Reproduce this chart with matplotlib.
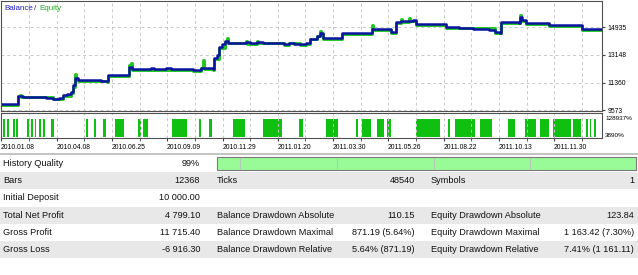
import matplotlib
matplotlib.use('Agg')
import matplotlib.pyplot as plt
import matplotlib.transforms as mtransforms

plt.rcParams['font.family'] = ['Liberation Sans', 'DejaVu Sans']

# Balance curve (trade number, balance)
bal_x = [0, 17, 22, 35, 45, 52, 58, 62, 66, 70, 72, 74, 77, 95, 100, 106, 107, 126, 128, 131,
         150, 153, 165, 170, 188, 192, 200, 212, 213, 216, 218, 221, 224, 227, 242, 245, 249, 256,
         262, 280, 283, 288, 293, 299, 305, 309, 316, 319, 322, 340, 341, 370, 371, 389, 390, 395,
         400, 406, 412, 415, 441, 445, 458, 472, 488, 494, 499, 500, 518, 519, 521, 525, 548, 581, 600]
balance = [10000, 10520, 10470, 10440, 10400, 10340, 10380, 10560, 10620, 10760, 11200, 11650, 11540,
           11520, 11480, 11470, 11850, 11840, 12380, 12250, 12290, 12230, 12290, 12240, 12230, 12180,
           12280, 12260, 12950, 13150, 13650, 13850, 14050, 13950, 13920, 14000, 13920, 13980, 13940,
           13930, 13870, 13950, 13880, 13840, 13900, 14200, 14400, 14580, 14240, 14240, 14560, 14560,
           14810, 14800, 14630, 15280, 15330, 15360, 15390, 15160, 15130, 14940, 14880, 14830, 14760,
           14640, 14580, 15250, 15240, 15580, 15380, 15210, 15050, 14830, 14799.10]

# Equity curve
eq_x = [0, 17, 19, 20, 52, 58, 62, 70, 72, 74, 75, 77, 106, 107, 126, 128, 130, 131, 170, 192, 200,
        202, 203, 212, 213, 218, 224, 226, 227, 245, 246, 256, 257, 283, 288, 299, 305, 309, 316,
        319, 320, 322, 340, 341, 370, 371, 372, 390, 395, 400, 401, 408, 409, 415, 445, 494, 500,
        519, 520, 525, 548, 581, 600]
equity = [9950, 10480, 10560, 10420, 10300, 10330, 10500, 10700, 11100, 11900, 11600, 11480, 11420,
          11800, 11790, 12500, 12640, 12200, 12190, 12130, 12330, 12830, 12230, 12210, 12900, 13600,
          14000, 14250, 13900, 14080, 13880, 14060, 13900, 13820, 13900, 13790, 13850, 14150, 14350,
          14680, 14520, 14190, 14190, 14500, 14500, 15080, 14760, 14580, 15230, 15500, 15300, 15540,
          15340, 15110, 14890, 14590, 15200, 15730, 15330, 15160, 15000, 14780, 14750]

# Margin level bursts (trade start, trade end, level %)
margin_start = [2, 6, 12, 15, 26, 30, 34, 38, 42, 50, 85, 93, 102, 114, 137, 142, 171, 198, 208, 232,
                262, 298, 325, 355, 361, 376, 386, 415, 447, 454, 479, 507, 524, 539, 552, 572, 585,
                589, 593]
margin_end = [4, 8, 14, 17, 28, 32, 35, 40, 44, 53, 87, 95, 105, 123, 140, 147, 186, 200, 211, 244,
              281, 302, 337, 357, 370, 383, 390, 439, 449, 474, 491, 514, 535, 548, 570, 580, 587,
              590, 595]
margin_level = 140000

bal_ticks = [9573, 11360, 13148, 14935]
margin_ticks = [3890, 128937]
date_pos = [0, 56, 111, 166, 222, 277, 332, 387, 443, 498, 553]
date_labels = ['2010.01.08', '2010.04.08', '2010.06.25', '2010.09.09', '2010.11.29', '2011.01.20',
               '2011.03.30', '2011.05.26', '2011.08.22', '2011.10.13', '2011.11.30']
mid_pos = [28, 83, 139, 194, 249, 304, 360, 415, 470, 526, 581]

# Report table
col1_labels = ['History Quality', 'Bars', 'Initial Deposit', 'Total Net Profit', 'Gross Profit', 'Gross Loss']
col1_values = ['99%', '12368', '10 000.00', '4 799.10', '11 715.40', '-6 916.30']
col2_labels = ['', 'Ticks', '', 'Balance Drawdown Absolute', 'Balance Drawdown Maximal', 'Balance Drawdown Relative']
col2_values = ['', '48540', '', '110.15', '871.19 (5.64%)', '5.64% (871.19)']
col3_labels = ['', 'Symbols', '', 'Equity Drawdown Absolute', 'Equity Drawdown Maximal', 'Equity Drawdown Relative']
col3_values = ['', '1', '', '123.84', '1 163.42 (7.30%)', '7.41% (1 161.11)']
quality_dividers = [240, 337, 434, 530]

W, H = 638, 275


def box(x0, y0, x1, y1):
    return [x0 / W, 1 - y1 / H, (x1 - x0) / W, (y1 - y0) / H]


fig = plt.figure(figsize=(W / 100, H / 100), dpi=100)

# table background (pixel coordinates)
axt = fig.add_axes([0, 0, 1, 1])
axt.set_xlim(0, W)
axt.set_ylim(H, 0)
axt.axis('off')
axt.axhspan(152.5, 155, color='#c4c4c4', lw=0)
row_h = 17.2
top = 155
for i in range(len(col1_labels)):
    y0 = top + i * row_h
    if i % 2 == 1:
        axt.axhspan(y0, y0 + row_h, color='#e8e8e8', lw=0)
    yc = y0 + row_h / 2
    kw = dict(va='center', fontsize=6.6, color='#111111')
    axt.text(3, yc, col1_labels[i], ha='left', **kw)
    axt.text(200, yc, col1_values[i], ha='right', **kw)
    axt.text(217, yc, col2_labels[i], ha='left', **kw)
    axt.text(415, yc, col2_values[i], ha='right', **kw)
    axt.text(431, yc, col3_labels[i], ha='left', **kw)
    axt.text(634, yc, col3_values[i], ha='right', **kw)

# history quality bar
axt.add_patch(plt.Rectangle((216.5, 157), 419, 12.5, facecolor='#98fb98', edgecolor='#7a7a7a', lw=0.8))
for xd in quality_dividers:
    axt.plot([xd, xd], [157.5, 169], color='#b8c8b8', lw=0.8)

grid_kw = dict(color='#c8c8c8', linestyle=(0, (3, 3)), linewidth=0.7)

# balance / equity chart
ax = fig.add_axes(box(1, 1, 602, 111))
ax.plot(eq_x, equity, drawstyle='steps-post', color='#1ec81e', lw=2.1)
ax.plot(bal_x, balance, drawstyle='steps-post', color='#0a14a0', lw=1.8)
ax.set_xlim(0, 601)
ax.set_ylim(9535, 16630)
ax.set_yticks(bal_ticks)
ax.set_yticklabels([str(v) for v in bal_ticks])
ax.set_xticks(date_pos[1:] + mid_pos)
ax.tick_params(axis='x', length=0, labelbottom=False)
ax.yaxis.tick_right()
ax.tick_params(axis='y', length=2, pad=2, labelsize=4.9, color='#404040')
ax.grid(True, **grid_kw)
for s in ax.spines.values():
    s.set_color('#505050')
    s.set_linewidth(0.8)

# margin level panel
axm = fig.add_axes(box(1, 113, 602, 138))
axm.bar(margin_start, [margin_level] * len(margin_start),
        width=[e - s for s, e in zip(margin_start, margin_end)],
        align='edge', bottom=-12000, color='#10c010', lw=0)
axm.set_xlim(0, 601)
axm.set_ylim(-19555, 175827)
axm.set_yticks([])
lbl_tr = mtransforms.blended_transform_factory(axm.transAxes, axm.transData)
for v in margin_ticks:
    axm.text(1.005, v, f'{v}%', transform=lbl_tr, fontsize=4.6, va='center', ha='left',
             clip_on=False)
axm.set_xticks(date_pos)
axm.set_xticklabels(date_labels, ha='left')
axm.set_xticks(mid_pos, minor=True)
axm.tick_params(axis='x', which='both', length=2, pad=2.5, labelsize=4.9, color='#404040')
axm.grid(True, axis='x', which='both', **grid_kw)
for s in axm.spines.values():
    s.set_color('#505050')
    s.set_linewidth(0.8)
axm.text(3, 0.8, 'Margin Level', transform=axm.get_yaxis_transform(), fontsize=5.8,
         va='center', ha='left', bbox=dict(facecolor='white', edgecolor='none', pad=0.6))

fig.text(4 / W, 1 - 9 / H, 'Balance', color='#2020c0', fontsize=5.8, va='center', ha='left')
fig.text(34 / W, 1 - 9 / H, '/', color='#303030', fontsize=5.8, va='center', ha='left')
fig.text(39 / W, 1 - 9 / H, 'Equity', color='#22b022', fontsize=5.8, va='center', ha='left')

fig.savefig('out.png', dpi=100)
